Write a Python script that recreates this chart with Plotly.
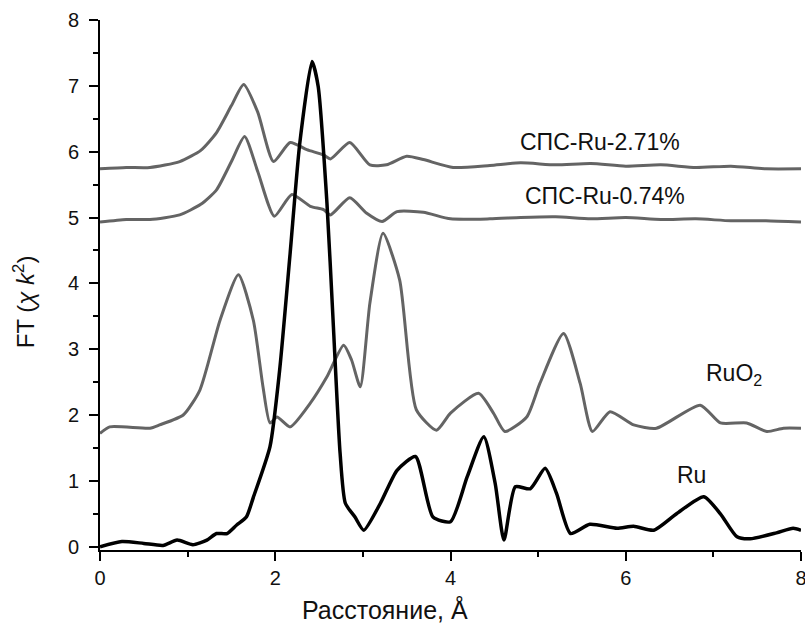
import plotly.graph_objects as go

# --- data ---
x_271 = [0.0, 0.3, 0.57, 0.91, 1.15, 1.33, 1.5, 1.64, 1.8, 1.98, 2.17, 2.36, 2.55, 2.63, 2.85, 3.08, 3.27, 3.5, 3.69, 4.03, 4.45, 4.8, 5.2, 5.6, 6.0, 6.4, 6.8, 7.2, 7.6, 8.0]
y_271 = [5.74, 5.76, 5.76, 5.85, 6.02, 6.29, 6.7, 7.02, 6.6, 5.85, 6.14, 6.03, 5.95, 5.89, 6.14, 5.8, 5.80, 5.93, 5.88, 5.76, 5.79, 5.83, 5.8, 5.82, 5.78, 5.8, 5.76, 5.78, 5.74, 5.74]

x_074 = [0.0, 0.3, 0.57, 0.91, 1.15, 1.33, 1.5, 1.65, 1.8, 1.99, 2.19, 2.40, 2.55, 2.63, 2.85, 3.04, 3.22, 3.39, 3.69, 4.0, 4.45, 4.8, 5.2, 5.6, 6.0, 6.4, 6.8, 7.2, 7.6, 8.0]
y_074 = [4.93, 4.97, 4.97, 5.04, 5.2, 5.42, 5.85, 6.23, 5.7, 5.02, 5.35, 5.17, 5.12, 5.04, 5.30, 5.07, 4.94, 5.09, 5.08, 4.98, 4.98, 5.0, 5.01, 4.98, 5.0, 4.97, 4.98, 4.95, 4.95, 4.93]

x_ruo2 = [0.0, 0.11, 0.57, 0.68, 0.95, 1.14, 1.37, 1.58, 1.75, 1.86, 1.94, 2.02, 2.17, 2.40, 2.59, 2.78, 2.87, 2.97, 3.08, 3.23, 3.42, 3.61, 3.84, 4.0, 4.32, 4.49, 4.62, 4.87, 5.02, 5.29, 5.48, 5.62, 5.82, 6.09, 6.35, 6.85, 7.08, 7.38, 7.61, 7.80, 8.0]
y_ruo2 = [1.72, 1.82, 1.80, 1.85, 2.0, 2.38, 3.44, 4.13, 3.44, 2.43, 1.88, 1.97, 1.82, 2.18, 2.58, 3.06, 2.84, 2.43, 3.70, 4.76, 4.05, 2.08, 1.77, 2.03, 2.33, 2.03, 1.75, 1.97, 2.48, 3.24, 2.48, 1.75, 2.05, 1.85, 1.80, 2.15, 1.88, 1.88, 1.75, 1.80, 1.80]

x_ru = [0.0, 0.25, 0.5, 0.72, 0.88, 1.06, 1.22, 1.33, 1.45, 1.56, 1.67, 1.75, 1.94, 2.05, 2.17, 2.28, 2.42, 2.49, 2.59, 2.66, 2.74, 2.80, 2.91, 3.01, 3.20, 3.39, 3.60, 3.80, 4.0, 4.19, 4.38, 4.51, 4.61, 4.74, 4.91, 5.08, 5.21, 5.37, 5.59, 5.90, 6.09, 6.32, 6.58, 6.89, 7.08, 7.27, 7.42, 7.72, 7.91, 8.0]
y_ru = [0.0, 0.08, 0.05, 0.02, 0.10, 0.03, 0.10, 0.20, 0.20, 0.33, 0.45, 0.75, 1.52, 2.68, 4.46, 6.13, 7.37, 6.99, 5.22, 3.44, 1.42, 0.66, 0.45, 0.25, 0.66, 1.16, 1.37, 0.45, 0.38, 1.06, 1.67, 0.96, 0.10, 0.91, 0.88, 1.19, 0.81, 0.20, 0.34, 0.28, 0.31, 0.25, 0.50, 0.76, 0.50, 0.15, 0.12, 0.21, 0.28, 0.25]

labels = ["СПС-Ru-2.71%", "СПС-Ru-0.74%", "RuO<sub>2</sub>", "Ru"]
label_x = [5.71, 5.76, 7.23, 6.75]
label_y = [6.15, 5.32, 2.61, 1.09]

x_title = "Расстояние, Å"
y_title = "FT (<i>χ k</i><sup>2</sup>)"

GRAY = "#646464"
BLACK = "#000000"
FONT = "Liberation Sans, Arial, sans-serif"

fig = go.Figure()
for xs, ys, col, w in [(x_271, y_271, GRAY, 3), (x_074, y_074, GRAY, 3),
                       (x_ruo2, y_ruo2, GRAY, 3), (x_ru, y_ru, BLACK, 3.5)]:
    fig.add_trace(go.Scatter(x=xs, y=ys, mode="lines",
                             line=dict(color=col, width=w, shape="spline", smoothing=0.6),
                             showlegend=False, hoverinfo="skip"))

for t, lx, ly in zip(labels, label_x, label_y):
    fig.add_annotation(x=lx, y=ly, text=t, showarrow=False,
                       xanchor="center", yanchor="middle",
                       font=dict(family=FONT, size=23, color="#111111"))

# axis titles placed as in the reference
fig.add_annotation(xref="paper", yref="paper", x=0.4066, y=-0.113, text=x_title,
                   xanchor="center", yanchor="middle",
                   showarrow=False, font=dict(family=FONT, size=25, color="#111111"))
fig.add_annotation(xref="paper", yref="paper", x=-0.108, y=0.468, text=y_title, textangle=-90,
                   xanchor="center", yanchor="middle",
                   showarrow=False, font=dict(family=FONT, size=24, color="#111111"))

fig.update_layout(
    width=805, height=623,
    margin=dict(l=100, r=4, t=20, b=73, autoexpand=False),
    paper_bgcolor="white", plot_bgcolor="white",
    font=dict(family=FONT, size=20, color="#111111"),
    xaxis=dict(range=[0, 8], tickvals=[0, 2, 4, 6, 8], showgrid=False, zeroline=False,
               showline=True, linecolor="black", linewidth=2, automargin=False,
               ticks="outside", ticklen=9, tickwidth=2, tickcolor="black",
               ticklabelstandoff=0, ticklabeloverflow="allow",
               minor=dict(tickvals=[1, 3, 5, 7], ticks="outside", ticklen=5, tickwidth=2, tickcolor="black")),
    yaxis=dict(range=[-0.05, 8], tickvals=[0, 1, 2, 3, 4, 5, 6, 7, 8], showgrid=False, zeroline=False,
               showline=True, linecolor="black", linewidth=2, automargin=False,
               ticks="outside", ticklen=9, tickwidth=2, tickcolor="black",
               ticklabelstandoff=6, ticklabeloverflow="allow",
               minor=dict(tickvals=[0.5, 1.5, 2.5, 3.5, 4.5, 5.5, 6.5, 7.5], ticks="outside", ticklen=5, tickwidth=2, tickcolor="black")),
)

fig.write_html("out.html")
